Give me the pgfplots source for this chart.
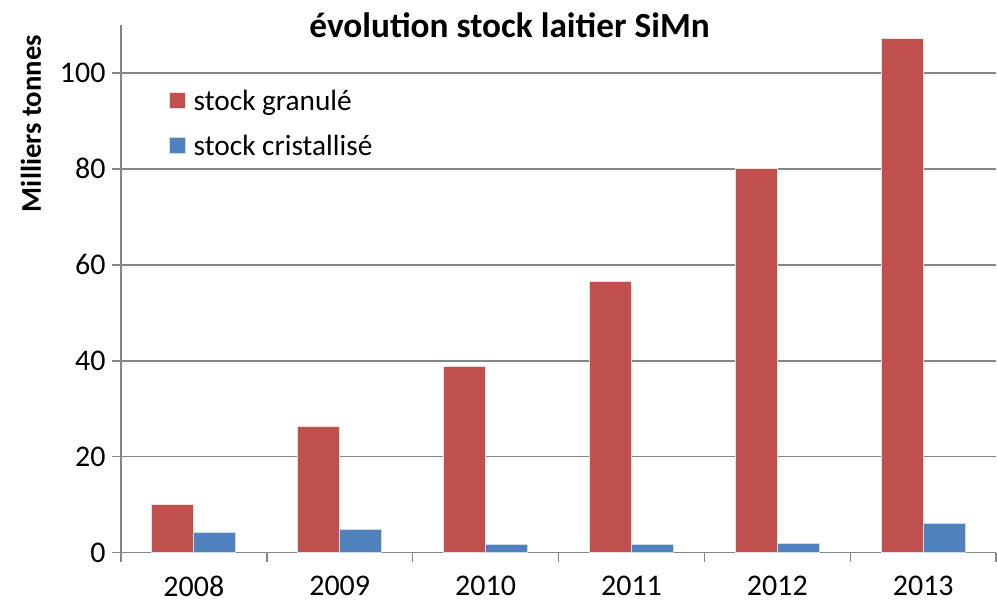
\documentclass[border=0pt]{standalone}
\usepackage{pgfplots}
\pgfplotsset{compat=1.18}
\usepackage{fontspec}
\setmainfont{Carlito}
\definecolor{redbar}{HTML}{C0504D}
\definecolor{bluebar}{HTML}{4F81BD}
\definecolor{axgray}{HTML}{868686}

\begin{document}
\begin{tikzpicture}
\begin{axis}[
    name=main,
    scale only axis,
    width=657pt, height=396pt,
    ybar=0pt, bar width=31.5pt,
    xmin=-0.5, xmax=5.5,
    ymin=0, ymax=110,
    axis x line*=bottom, axis y line*=left,
    axis line style={axgray, line width=1.2pt},
    xtick={0,...,5},
    xticklabels={2008,2009,2010,2011,2012,2013},
    major x tick style={draw=none},
    minor xtick={-0.5,0.5,...,5.5},
    minor x tick style={axgray, line width=1.2pt},
    minor tick length=7pt,
    ytick={0,20,...,100},
    major y tick style={axgray, line width=1.2pt},
    major tick length=7pt,
    tick align=outside,
    ymajorgrids,
    grid style={axgray, line width=1.2pt},
    tick label style={font=\fontsize{22.5}{26}\selectfont},
    /pgf/number format/assume math mode=true,
    xticklabel style={yshift=-7pt},
    yticklabel style={xshift=-1pt},
    legend style={draw=none, fill=none, at={(rel axis cs:0.05,0.888)}, anchor=north west,
        font=\fontsize{22}{26}\selectfont, row sep=13pt,
        cells={anchor=west},
        /tikz/every odd column/.append style={column sep=4pt}},
    legend cell align=left,
    legend image code/.code={\fill[#1] (0pt,-6pt) rectangle (12pt,6pt);},
]
\addplot[fill=redbar, draw=white!80!redbar, line width=0.6pt] coordinates {
    (0,10.0) (1,26.3) (2,38.8) (3,56.5) (4,80.0) (5,107.1)
};
\addlegendentry{stock granulé}
\addplot[fill=bluebar, draw=white!70!bluebar, line width=0.6pt] coordinates {
    (0,4.2) (1,4.8) (2,1.6) (3,1.7) (4,1.9) (5,6.0)
};
\addlegendentry{stock cristallisé}
\end{axis}
\node[font=\fontsize{26.5}{30}\selectfont\bfseries] at ([xshift=291.75pt,yshift=0pt]main.north west) {évolution stock laitier SiMn};
\node[rotate=90, font=\fontsize{21.5}{25}\selectfont\bfseries] at ([xshift=-67.5pt,yshift=-74pt]main.north west) {Milliers tonnes};
\path[use as bounding box] ([xshift=-90.75pt,yshift=18.75pt]main.north west) rectangle ([yshift=-39pt]main.south east);
\end{tikzpicture}
\end{document}
